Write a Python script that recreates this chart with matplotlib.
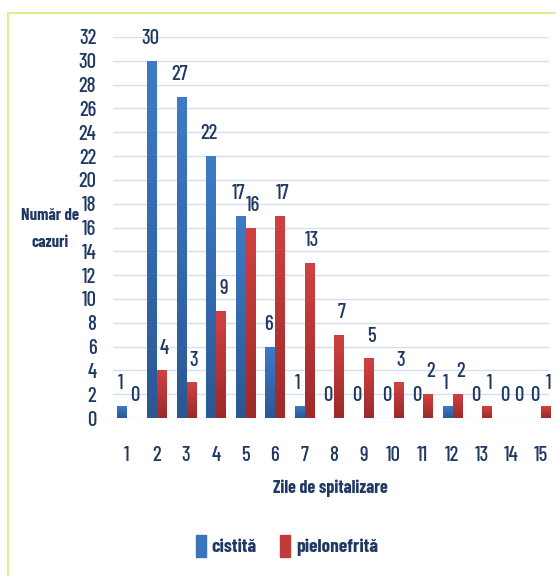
import matplotlib.pyplot as plt
import numpy as np
from matplotlib.patches import Patch
from matplotlib.lines import Line2D
from matplotlib.colors import LinearSegmentedColormap

zile = [1, 2, 3, 4, 5, 6, 7, 8, 9, 10, 11, 12, 13, 14, 15]
cistita = [1, 30, 27, 22, 17, 6, 1, 0, 0, 0, 0, 1, 0, 0, 0]
pielonefrita = [0, 4, 3, 9, 16, 17, 13, 7, 5, 3, 2, 2, 1, 0, 1]
y_ticks = list(range(0, 33, 2))

plt.rcParams['font.family'] = ['Barlow Condensed', 'Asap Condensed', 'DejaVu Sans']

navy = '#1f3864'
blue = '#3a74bd'
red = '#c33a3a'
blue_cm = LinearSegmentedColormap.from_list('b', ['#2b5895', '#3d7bc8'])
red_cm = LinearSegmentedColormap.from_list('r', ['#9c2a2a', '#d24141'])

fig = plt.figure(figsize=(5.56, 5.76), dpi=100)
ax = fig.add_axes([113 / 556, 1 - 418 / 576, 436 / 556, 381 / 576])

x = np.array(zile)
w = 0.31
b1 = ax.bar(x - 0.17, cistita, w, color=blue, zorder=3)
b2 = ax.bar(x + 0.17, pielonefrita, w, color=red, zorder=3)

# gradient in fiecare bara
grad = np.linspace(0, 1, 64).reshape(-1, 1)
for bars, cm in [(b1, blue_cm), (b2, red_cm)]:
    for r in bars:
        if r.get_height() > 0:
            im = ax.imshow(grad, cmap=cm, origin='lower', aspect='auto', zorder=3.5,
                           extent=[r.get_x(), r.get_x() + r.get_width(), 0, r.get_height()])
            im.set_clip_path(r)

for bars, vals, dx in [(b1, cistita, -1), (b2, pielonefrita, 2)]:
    for r, v in zip(bars, vals):
        ax.annotate(str(v), (r.get_x() + r.get_width() / 2, v),
                    xytext=(dx, 16), textcoords='offset points',
                    ha='center', va='center', fontsize=15, fontweight='medium', color=navy)

ax.set_xlim(1 - 14 / 29.57, 15 + 8 / 29.57)
ax.set_ylim(0, 32)
ax.set_yticks(y_ticks)
ax.set_xticks(zile)
ax.tick_params(length=0, labelsize=15, labelcolor=navy)
ax.tick_params(axis='x', pad=20)
ax.tick_params(axis='y', pad=12)
for lab in ax.get_xticklabels() + ax.get_yticklabels():
    lab.set_fontweight('medium')
ax.grid(axis='y', color='#d5e0ef', linewidth=1, zorder=0)
for s in ax.spines.values():
    s.set_visible(False)

fig.text(50 / 556, 1 - 229 / 576, 'Număr de\ncazuri', ha='center', va='center',
         fontsize=12, fontweight='bold', color=navy, linespacing=2.0)
fig.text(330 / 556, 1 - 488 / 576, 'Zile de spitalizare', ha='center', va='center',
         fontsize=13, fontweight='bold', color=navy)

handles = [Patch(color=blue), Patch(color=red)]
fig.legend(handles, ['cistită', 'pielonefrită'], loc='center', ncol=2,
           bbox_to_anchor=(287 / 556, 1 - 546 / 576), frameon=False,
           handlelength=0.5, handleheight=1.4, handletextpad=0.3, columnspacing=1.2,
           prop={'size': 14, 'weight': 'bold'}, labelcolor=navy)

fig.add_artist(Line2D([8 / 556, 1], [1 - 13 / 576] * 2, color='#e3ea94', lw=1.5))
fig.add_artist(Line2D([8 / 556] * 2, [0, 1 - 13 / 576], color='#e3ea94', lw=1.5))

fig.savefig('out.png', dpi=100)
